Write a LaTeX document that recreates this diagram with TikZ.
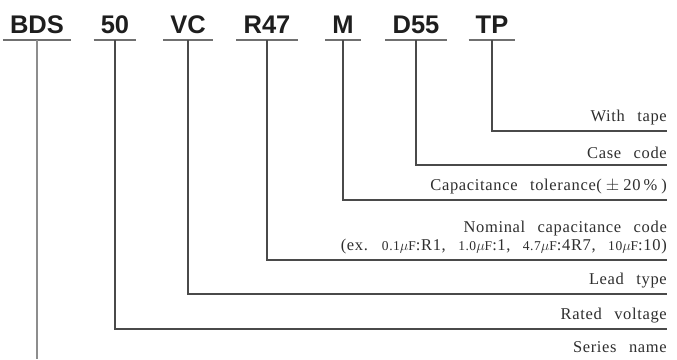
\documentclass[tikz,border=0pt]{standalone}
\usepackage{fontspec}
\setmainfont{Liberation Serif}
\newfontfamily\codefont{Liberation Sans}
\newfontfamily\labelfont[LetterSpace=4,WordSpace=2.6]{Liberation Serif}
\newcommand\smallval[1]{{\fontsize{13.5}{17}\selectfont #1}}
\definecolor{codeblack}{HTML}{1E1E1E}
\definecolor{linegray}{HTML}{4A4A4A}
\definecolor{rulegray}{HTML}{707070}
\definecolor{textgray}{HTML}{2E2E2E}
\tikzset{
  code/.style={anchor=base, inner xsep=7pt, inner ysep=0pt, text depth=0pt,
    font=\codefont\bfseries\fontsize{25.5}{25}\selectfont, text=codeblack},
  label/.style={anchor=south east, inner sep=0pt, outer ysep=6pt, align=right,
    font=\labelfont\fontsize{16.5}{18}\selectfont, text=textgray},
  underline/.style={draw=rulegray, line width=1.4pt},
  leader/.style={draw=linegray, line width=1.1pt}
}
\begin{document}
\begin{tikzpicture}[x=1pt,y=-1pt]
	\useasboundingbox (0,0) rectangle (677,359);
	% part number
	\node[code] (bds) at (37,33) {BDS};
	\node[code] (v50) at (115,33) {50};
	\node[code] (vc)  at (188,33) {VC};
	\node[code] (r47) at (267,33) {R47};
	\node[code] (m)   at (343,33) {M};
	\node[code] (d55) at (416,33) {D55};
	\node[code] (tp)  at (492,33) {TP};
	\foreach \c in {bds,v50,vc,r47,m,d55,tp}
		\draw[underline] ([yshift=-7pt]\c.base west) -- ([yshift=-7pt]\c.base east);
	% descriptions
	\node[label] (tape)   at (667,131) {With tape};
	\node[label] (case)   at (667,165) {Case code};
	\node[label] (tol)    at (667,200) {Capacitance tolerance(\hspace{4pt}$\pm$\hspace{4pt}20\hspace{3pt}\%\hspace{4pt})};
	\node[label] (nom)    at (667,260) {Nominal capacitance code\\
		(ex. \smallval{0.1$\mu$F}:R1, \smallval{1.0$\mu$F}:1, \smallval{4.7$\mu$F}:4R7, \smallval{10$\mu$F}:10)};
	\node[label] (lead)   at (667,294) {Lead type};
	\node[label] (volt)   at (667,329) {Rated voltage};
	\node[label] (series) at (667,359) {Series name};
	\coordinate (bdsend) at (bds.base |- 0,359);
	% leaders
	\draw[leader] ([yshift=-7pt]tp.base)  |- (tape.south east);
	\draw[leader] ([yshift=-7pt]d55.base) |- (case.south east);
	\draw[leader] ([yshift=-7pt]m.base)   |- (tol.south east);
	\draw[leader] ([yshift=-7pt]r47.base) |- (nom.south east);
	\draw[leader] ([yshift=-7pt]vc.base)  |- (lead.south east);
	\draw[leader] ([yshift=-7pt]v50.base) |- (volt.south east);
	\draw[draw=rulegray!80, line width=1.6pt] ([yshift=-7pt]bds.base) -- (bdsend);
\end{tikzpicture}
\end{document}
